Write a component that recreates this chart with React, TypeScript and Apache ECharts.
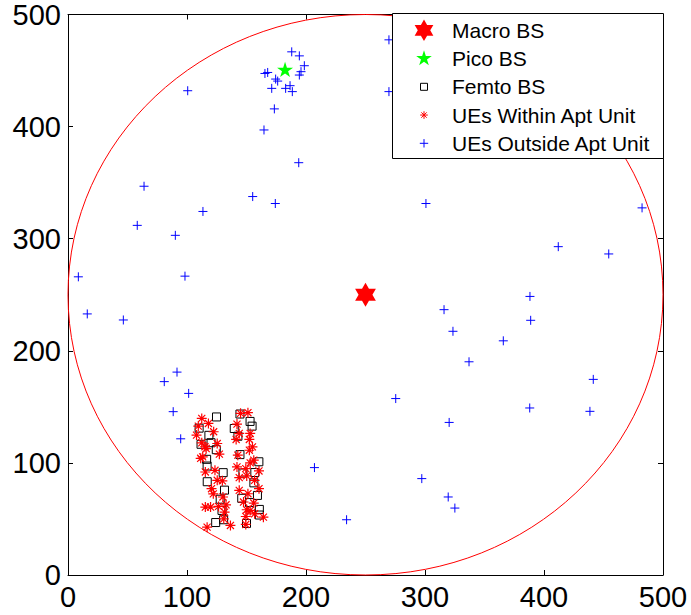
import React, { useEffect, useRef } from 'react';
import * as echarts from 'echarts';

// ---- data (metres) ----
const macroBS = [[250, 250]];
const picoBS = [[182.4, 451]];
const femtoBS = [
  [124.8, 141], [110.2, 131], [118.4, 124.6], [120.2, 118], [111.8, 116.6], [124.6, 111.8],
  [116.5, 103.2], [116.9, 97.2], [130.4, 91.3], [117, 83.2], [131.5, 75.7], [127.9, 67.6],
  [129.4, 57.6], [124.1, 46.8], [130.8, 49.3],
  [144.5, 143.6], [153, 137], [154.7, 132.8], [139.7, 130.7], [142.8, 123.8], [144.5, 107.4],
  [160.4, 101], [147, 91], [157, 91.4], [156.2, 82.2], [159.2, 71], [146, 68.4],
  [152.5, 64.6], [160.8, 58.5], [160.8, 53.5], [150, 46],
];
const uesWithinApt = [
  [112.4, 139.7], [109.5, 132.8], [118.0, 135.2], [108.0, 124.8], [122.4, 127.8], [112.4, 117.9],
  [116.1, 112.8], [125.4, 117.3], [113.2, 105.4], [127.2, 107.8], [115.4, 91.9], [123.5, 93.4],
  [125.4, 84.5], [120.6, 77.0], [115.4, 60.6], [119.8, 60.6], [126.5, 61.2], [130.2, 69.6],
  [131.6, 56.1], [130.9, 50.1], [116.9, 42.7], [136.5, 44.2], [129.7, 84.0], [122.1, 72.4],
  [132.8, 62.6], [111.5, 104.1], [115.1, 114.4],
  [145.0, 144.2], [151.2, 144.8], [142.0, 134.6], [143.9, 126.3], [141.3, 120.9], [153.1, 126.3],
  [152.4, 120.9], [155.0, 114.3], [152.4, 111.3], [142.7, 106.9], [156.1, 102.4], [153.1, 100.0],
  [142.0, 96.4], [149.4, 94.9], [160.5, 92.8], [143.9, 86.9], [156.8, 84.5], [160.5, 77.0],
  [143.9, 75.5], [151.2, 72.5], [147.5, 65.1], [156.1, 64.2], [153.1, 57.6], [149.4, 52.2],
  [164.2, 51.6], [156.8, 54.6], [149.4, 45.1], [150.2, 88.4], [150.2, 58.2],
];
const uesOutsideApt = [
  [100.6, 432], [188, 466.7], [194.4, 463.1], [198.6, 454.3], [195.8, 449], [194.4, 446],
  [165.5, 447.4], [167.8, 448.3], [174.5, 442.4], [176.2, 440.6], [171.2, 434.1], [182.9, 434.1],
  [186.6, 436.5], [188.5, 431.2], [173.4, 415.8], [164.7, 397], [269.7, 477.4], [269.7, 431.2],
  [193.9, 367.8], [155.2, 337.6], [174.2, 331.4], [300.8, 331.4], [482.4, 327.5], [412, 292.9],
  [454.4, 286.4], [388.2, 248.5], [316, 236.7], [388.8, 227.2], [323.5, 217.4], [365.8, 208.9],
  [337, 190.2], [441.4, 174.5], [275.4, 157.4], [63.9, 346.8], [113.4, 324.3], [58.2, 311.9],
  [90.2, 303], [8.7, 266], [98.3, 266.6], [16.2, 232.9], [46.5, 227.5], [91.6, 181],
  [80.9, 172.5], [101.4, 162], [88.4, 145.7], [94.7, 121.5], [207.1, 95.8], [234.1, 49.3],
  [297.3, 86], [320.3, 136.1], [319.5, 69.6], [325.1, 59.7], [388, 149], [438.6, 146],
];
const cellEdge = [[250, 250, 250]]; // centre x, centre y, radius
const legendLabels = ['Macro BS', 'Pico BS', 'Femto BS', 'UEs Within Apt Unit', 'UEs Outside Apt Unit'];

// ---- marker shapes ----
const STAR6 = 'M0 -10 L2.887 -5 L8.66 -5 L5.774 0 L8.66 5 L2.887 5 L0 10 L-2.887 5 L-8.66 5 L-5.774 0 L-8.66 -5 L-2.887 -5 Z';
const STAR5 = 'M0 -10 L2.245 -3.09 L9.511 -3.09 L3.633 1.18 L5.878 8.09 L0 3.82 L-5.878 8.09 L-3.633 1.18 L-9.511 -3.09 L-2.245 -3.09 Z';
const PLUS = 'M-10 0 L10 0 M0 -10 L0 10';
const ASTER = 'M-10 0 L10 0 M0 -10 L0 10 M-7.07 -7.07 L7.07 7.07 M-7.07 7.07 L7.07 -7.07';

const FONT = 'Liberation Sans, Arial, Helvetica, sans-serif';

export default function App() {
  const ref = useRef<HTMLDivElement>(null);
  useEffect(() => {
    if (!ref.current) return;
    const g: any = (echarts as any).graphic;
    g.registerShape('mkStar6', g.extendPath(STAR6, {}));
    g.registerShape('mkStar5', g.extendPath(STAR5, {}));
    g.registerShape('mkPlus', g.extendPath(PLUS, {}));
    g.registerShape('mkAster', g.extendPath(ASTER, {}));

    const chart = echarts.init(ref.current, null, { renderer: 'svg' });

    const rowY = (i: number) => 30.3 + i * 28.25;
    const iconX = 424;
    const textX = 452;
    const legendGraphic: any[] = [
      {
        type: 'rect', z: 100,
        shape: { x: 392.5, y: 13.5, width: 271, height: 145 },
        style: { fill: '#ffffff', stroke: '#000000', lineWidth: 1 },
      },
      { type: 'mkStar6', z: 101, x: iconX, y: rowY(0), scaleX: 1.08, scaleY: 1.08, style: { fill: '#ff0000' } },
      { type: 'mkStar5', z: 101, x: iconX, y: rowY(1), scaleX: 0.82, scaleY: 0.82, style: { fill: '#00ff00' } },
      {
        type: 'rect', z: 101,
        shape: { x: iconX - 3.5, y: rowY(2) - 3.5, width: 7, height: 7 },
        style: { fill: 'none', stroke: '#000000', lineWidth: 1 },
      },
      { type: 'mkAster', z: 101, x: iconX, y: rowY(3), scaleX: 0.38, scaleY: 0.38, style: { fill: 'none', stroke: '#ff0000', lineWidth: 1 / 0.38 } },
      { type: 'mkPlus', z: 101, x: iconX, y: rowY(4), scaleX: 0.42, scaleY: 0.42, style: { fill: 'none', stroke: '#0000ff', lineWidth: 1 / 0.42 } },
      ...legendLabels.map((t, i) => ({
        type: 'text', z: 101, x: textX, y: rowY(i),
        style: { text: t, fontSize: 21, fontFamily: FONT, fill: '#000000', verticalAlign: 'middle', align: 'left' },
      })),
    ];

    const axisCommon = {
      type: 'value', min: 0, max: 500, interval: 100,
      axisLine: { show: true, onZero: false, lineStyle: { color: '#000000', width: 1 } },
      axisTick: { show: true, inside: true, length: 5, lineStyle: { color: '#000000', width: 1 } },
      splitLine: { show: false },
    };

    chart.setOption({
      animation: false,
      backgroundColor: '#ffffff',
      grid: { left: 68, right: 28, top: 13, bottom: 40, containLabel: false },
      xAxis: [
        { ...axisCommon, position: 'bottom', axisLabel: { show: true, fontSize: 29, fontFamily: FONT, color: '#000000', margin: 7 } },
        { ...axisCommon, position: 'top', axisLabel: { show: false } },
      ],
      yAxis: [
        { ...axisCommon, position: 'left', axisLabel: { show: true, fontSize: 29, fontFamily: FONT, color: '#000000', margin: 7 } },
        { ...axisCommon, position: 'right', axisLabel: { show: false } },
      ],
      series: [
        {
          type: 'custom', name: 'Cell edge', xAxisIndex: 0, yAxisIndex: 0, silent: true, clip: false,
          data: cellEdge,
          renderItem: (params: any, api: any) => {
            const c = api.coord([api.value(0), api.value(1)]);
            const s = api.size([api.value(2), api.value(2)]);
            return {
              type: 'ellipse',
              shape: { cx: c[0], cy: c[1], rx: s[0], ry: s[1] },
              style: { fill: 'none', stroke: '#ff0000', lineWidth: 1 },
            };
          },
        },
        {
          type: 'scatter', name: legendLabels[0], data: macroBS, silent: true,
          symbol: 'path://' + STAR6, symbolKeepAspect: true, symbolSize: 24,
          itemStyle: { color: '#ff0000', opacity: 1 },
        },
        {
          type: 'scatter', name: legendLabels[1], data: picoBS, silent: true,
          symbol: 'path://' + STAR5, symbolKeepAspect: true, symbolSize: 16,
          itemStyle: { color: '#00ff00', opacity: 1 },
        },
        {
          type: 'scatter', name: legendLabels[2], data: femtoBS, silent: true,
          symbol: 'rect', symbolSize: 8,
          itemStyle: { color: 'rgba(0,0,0,0)', borderColor: '#000000', borderWidth: 1, opacity: 1 },
        },
        {
          type: 'scatter', name: legendLabels[3], data: uesWithinApt, silent: true,
          symbol: 'path://' + ASTER, symbolSize: 10,
          itemStyle: { color: '#ff0000', borderColor: '#ff0000', borderWidth: 1.2, opacity: 1 },
        },
        {
          type: 'scatter', name: legendLabels[4], data: uesOutsideApt, silent: true,
          symbol: 'path://' + PLUS, symbolSize: 9,
          itemStyle: { color: '#0000ff', borderColor: '#0000ff', borderWidth: 1, opacity: 1 },
        },
      ],
      graphic: legendGraphic,
    });

    return () => chart.dispose();
  }, []);

  return (
    <div
      ref={ref}
      style={{ position: 'absolute', left: 0, top: 0, width: 691, height: 615, background: '#ffffff' }}
    />
  );
}
